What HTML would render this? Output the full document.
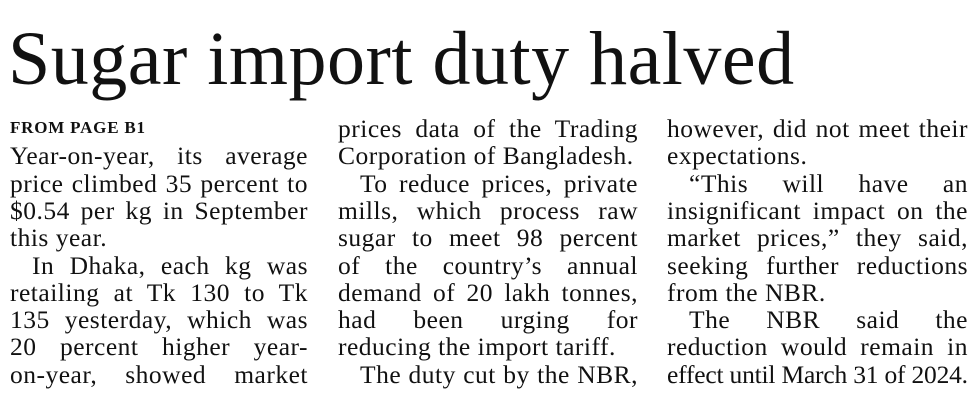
<!DOCTYPE html>
<html><head><meta charset="utf-8">
<style>
html,body{margin:0;padding:0;background:#fff;}
body{width:977px;height:404px;position:relative;overflow:hidden;font-family:"Liberation Serif",serif;color:#111;}
#title{position:absolute;left:8px;top:14px;font-size:76px;line-height:90px;white-space:nowrap;letter-spacing:0.5px;}
.col{position:absolute;top:0;}
.ln{position:absolute;left:0;font-size:25.5px;letter-spacing:0.5px;line-height:27px;height:27px;white-space:nowrap;text-align:justify;text-align-last:justify;}
.ln.end{text-align-last:left;}
.ln.ind{padding-left:22px;box-sizing:border-box;}
.ln.tight{letter-spacing:-0.2px;}
.kick{font-size:17px;font-weight:bold;letter-spacing:0.8px;text-align-last:left;}
</style></head>
<body>
<div id="title">Sugar import duty halved</div>

<div class="col" id="c1" style="left:10px;width:298px"></div>
<div class="col" id="c2" style="left:338px;width:300px"></div>
<div class="col" id="c3" style="left:667px;width:301px"></div>

<script>
const col1 = [
 ["FROM PAGE B1","kick"],
 ["Year-on-year, its average",""],
 ["price climbed 35 percent to",""],
 ["$0.54 per kg in September",""],
 ["this year.","end"],
 ["In Dhaka, each kg was","ind"],
 ["retailing at Tk 130 to Tk",""],
 ["135 yesterday, which was",""],
 ["20 percent higher year-",""],
 ["on-year, showed market",""]
];
const col2 = [
 ["prices data of the Trading",""],
 ["Corporation of Bangladesh.","end"],
 ["To reduce prices, private","ind"],
 ["mills, which process raw",""],
 ["sugar to meet 98 percent",""],
 ["of the country’s annual",""],
 ["demand of 20 lakh tonnes,",""],
 ["had been urging for",""],
 ["reducing the import tariff.","end"],
 ["The duty cut by the NBR,","ind"]
];
const col3 = [
 ["however, did not meet their",""],
 ["expectations.","end"],
 ["“This will have an","ind"],
 ["insignificant impact on the",""],
 ["market prices,” they said,",""],
 ["seeking further reductions",""],
 ["from the NBR.","end"],
 ["The NBR said the","ind"],
 ["reduction would remain in",""],
 ["effect until March 31 of 2024.","end tight"]
];
function fill(id, lines, w){
  const c = document.getElementById(id);
  lines.forEach((l,i)=>{
    const d = document.createElement('div');
    d.className = 'ln ' + l[1];
    d.style.top = (115 + i*27.3) + 'px';
    d.style.width = w + 'px';
    if(l[1]==='kick'){ d.style.top = '119px'; d.style.lineHeight='18px'; }
    d.textContent = l[0];
    
    
    c.appendChild(d);
  });
}
fill('c1', col1, 298);
fill('c2', col2, 300);
fill('c3', col3, 301);
</script>
</body></html>
